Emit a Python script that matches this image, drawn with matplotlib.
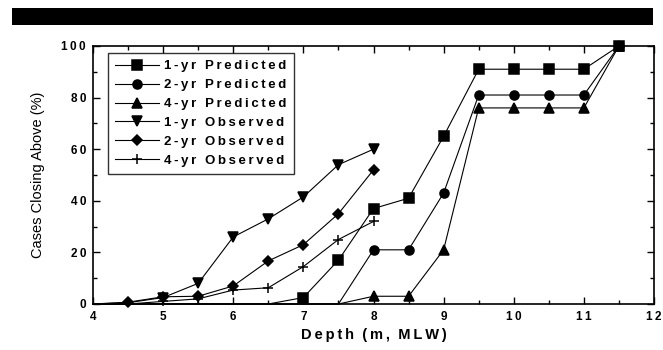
import numpy as np
import matplotlib
matplotlib.use("Agg")
import matplotlib.pyplot as plt
from matplotlib.ticker import MultipleLocator

plt.rcParams['font.family'] = ['Liberation Sans', 'DejaVu Sans']

# ── data ──────────────────────────────────────────────────────────────────────
depth = [4, 4.5, 5, 5.5, 6, 6.5, 7, 7.5, 8, 8.5, 9, 9.5, 10, 10.5, 11, 11.5]
pred_1yr = [0, 0, 0, 0, 0, 0, 2.5, 17, 37, 41, 65, 91, 91, 91, 91, 100]
pred_2yr = [0, 0, 0, 0, 0, 0, 0, 0, 21, 21, 43, 81, 81, 81, 81, 100]
pred_4yr = [0, 0, 0, 0, 0, 0, 0, 0, 3, 3, 21, 76, 76, 76, 76, 100]

obs_depth = [4, 4.5, 5, 5.5, 6, 6.5, 7, 7.5, 8]
obs_1yr = [0, 0.5, 2.5, 8, 26, 33, 41.5, 54, 60]
obs_2yr = [0, 0.7, 2.8, 3, 7, 16.7, 23, 35, 52]
obs_4yr = [0, 0, 1, 2, 5.4, 6.3, 14.5, 25, 32]

labels = ["1-yr Predicted", "2-yr Predicted", "4-yr Predicted",
          "1-yr Observed", "2-yr Observed", "4-yr Observed"]
markers = ["s", "o", "^", "v", "D", "+"]


def spaced(s):
    return "\u2009".join(s)


fig = plt.figure(figsize=(6.63, 3.5), dpi=100)

# black banner across the top
fig.add_artist(plt.Rectangle((12 / 663, 1 - 25 / 350), 641 / 663, 17 / 350,
                             transform=fig.transFigure, color="black", lw=0))

ax = fig.add_axes([93 / 663, 1 - 304 / 350, 561 / 663, 258 / 350])

series = [(depth, pred_1yr), (depth, pred_2yr), (depth, pred_4yr),
          (obs_depth, obs_1yr), (obs_depth, obs_2yr), (obs_depth, obs_4yr)]
for (xs, ys), lab, m in zip(series, labels, markers):
    show = [i for i, v in enumerate(ys) if v > 0.6]
    ms = {"D": 5.5, "+": 7.5}.get(m, 6.5)
    ax.plot(xs, ys, color="black", lw=0.8, marker=m, ms=ms, mew=1.1,
            markevery=show, label=spaced(lab), clip_on=False, zorder=3)

ax.set_xlim(4, 12)
ax.set_ylim(0, 100)
ax.xaxis.set_minor_locator(MultipleLocator(0.5))
ax.yaxis.set_minor_locator(MultipleLocator(10))
ax.tick_params(which="both", direction="in", top=True, right=True, width=1.0)
ax.tick_params(which="major", length=5, pad=5)
ax.tick_params(which="minor", length=3)
for s in ax.spines.values():
    s.set_linewidth(1.2)

ax.set_xticks(range(4, 13))
ax.set_xticklabels([spaced(str(v)) for v in range(4, 13)],
                   fontsize=8.5, fontweight="bold")
ax.set_yticks(range(0, 101, 20))
ax.set_yticklabels([spaced(str(v)) for v in range(0, 101, 20)],
                   fontsize=8.5, fontweight="bold")

ax.set_xlabel(spaced("Depth (m, MLW)").replace("\u2009 \u2009", "  "),
              fontsize=10.5, fontweight="bold", labelpad=4)
ax.set_ylabel("Cases Closing Above (%)", fontsize=10.5, labelpad=12)

leg = ax.legend(loc="upper left", bbox_to_anchor=(0.027, 0.973),
                frameon=True, fancybox=False, edgecolor="black",
                prop={"size": 9.5, "weight": "bold"}, handlelength=3.3,
                labelspacing=0.5, borderpad=0.55, handletextpad=0.4,
                borderaxespad=0)
leg.get_frame().set_linewidth(1.0)

fig.savefig("out.png", dpi=100)
